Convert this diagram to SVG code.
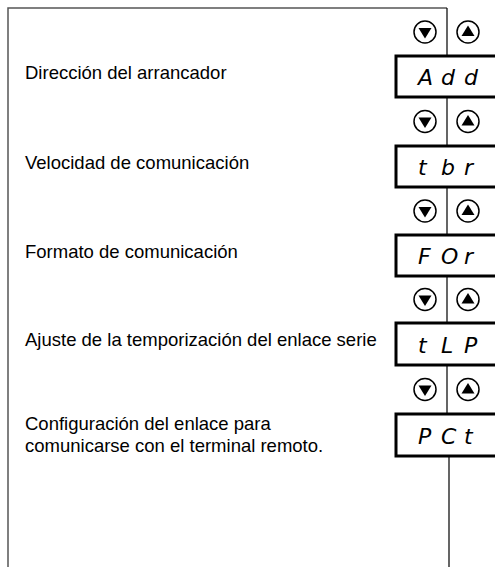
<svg xmlns="http://www.w3.org/2000/svg" width="495" height="567" viewBox="0 0 495 567">
<defs>
<style>
.lbl{font-family:"Liberation Sans",Arial,sans-serif;font-size:18.5px;fill:#000}
.seg{font-family:"DejaVu Sans",sans-serif;font-size:22px;font-style:oblique;font-weight:200;fill:#000}
.box{fill:#fff;stroke:#000;stroke-width:3}
.btn{fill:#fff;stroke:#000;stroke-width:1.5}
.wire{stroke:#000;stroke-width:1.2;fill:none}
</style>
<g id="btnDown"><circle class="btn" cx="0" cy="0" r="11"/><path d="M-6.5,-4 L6.5,-4 L0,6.5 Z" fill="#000"/></g>
<g id="btnUp"><circle class="btn" cx="0" cy="0" r="11"/><path d="M-6.5,4 L6.5,4 L0,-6.5 Z" fill="#000"/></g>
</defs>
<rect width="495" height="567" fill="#fff"/>
<g id="frame">
<path d="M8,567 L8,8 L447,8" stroke="#555" stroke-width="1.5" fill="none"/>
</g>
<g id="connectors">
<path class="wire" d="M447,8 V56 M447,97 V146 M447,187 V235 M447,276 V323 M447,365 V414 M449,456 V567"/>
</g>
<g id="row1">
<use href="#btnDown" x="425" y="32"/><use href="#btnUp" x="468" y="32"/>
<rect class="box" x="396" y="56" width="110" height="41"/>
<text class="seg" x="418 441 464" y="85">Add</text>
<text class="lbl" x="25" y="79">Dirección del arrancador</text>
</g>
<g id="row2">
<use href="#btnDown" x="425" y="121.5"/><use href="#btnUp" x="468" y="121.5"/>
<rect class="box" x="396" y="146" width="110" height="41"/>
<text class="seg" x="418 441 464" y="175">tbr</text>
<text class="lbl" x="25" y="169">Velocidad de comunicación</text>
</g>
<g id="row3">
<use href="#btnDown" x="425" y="211"/><use href="#btnUp" x="468" y="211"/>
<rect class="box" x="396" y="235" width="110" height="41"/>
<text class="seg" x="418 441 464" y="264">FOr</text>
<text class="lbl" x="25" y="258">Formato de comunicación</text>
</g>
<g id="row4">
<use href="#btnDown" x="425" y="299.5"/><use href="#btnUp" x="468" y="299.5"/>
<rect class="box" x="396" y="323" width="110" height="42"/>
<text class="seg" x="418 441 464" y="353">tLP</text>
<text class="lbl" x="25" y="346">Ajuste de la temporización del enlace serie</text>
</g>
<g id="row5">
<use href="#btnDown" x="425" y="389.5"/><use href="#btnUp" x="468" y="389.5"/>
<rect class="box" x="396" y="414" width="110" height="42"/>
<text class="seg" x="418 441 464" y="444">PCt</text>
<text class="lbl" x="25" y="430">Configuración del enlace para</text>
<text class="lbl" x="25" y="452">comunicarse con el terminal remoto.</text>
</g>
</svg>
